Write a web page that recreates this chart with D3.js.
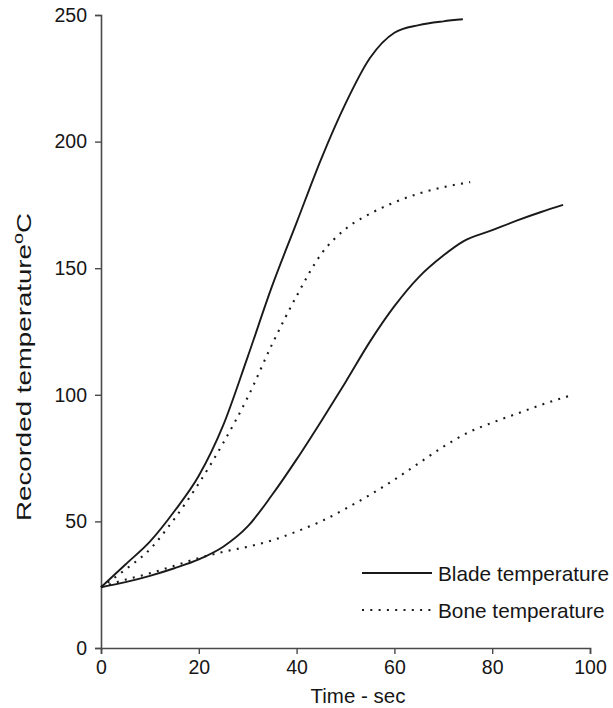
<!DOCTYPE html>
<html>
<head>
<meta charset="utf-8">
<script src="https://cdn.jsdelivr.net/npm/d3@7/dist/d3.min.js"></script>
<style>
  html, body { margin: 0; padding: 0; background: #fff; }
  svg { display: block; font-family: "Liberation Sans", Arial, sans-serif; }
</style>
</head>
<body>
<svg id="chart" width="613" height="708"></svg>
<script>
// Time (s) samples and recorded temperatures (°C)
const bladeFastTime = [0, 5, 10, 15, 20, 25, 30, 35, 40, 45, 50, 55, 60, 65, 70, 74];
const bladeFastTemp = [24, 33, 42, 54, 68, 88, 115, 143, 168, 193, 215, 233, 243, 246, 247.5, 248.3];

const boneFastTime = [0, 5, 10, 15, 20, 25, 30, 35, 40, 45, 50, 55, 60, 65, 70, 75.5];
const boneFastTemp = [24, 31, 39, 51, 65, 81, 99, 120, 139, 155.5, 165.5, 171.5, 176, 179.5, 182, 184];

const bladeSlowTime = [0, 5, 10, 15, 20, 25, 30, 35, 40, 45, 50, 55, 60, 65, 70, 74, 80, 85, 90, 94.5];
const bladeSlowTemp = [24, 26, 28.5, 31.5, 35, 40, 48, 60.5, 74.5, 89.5, 105, 121, 135, 146.5, 155, 160.5, 165, 168.8, 172.2, 175];

const boneSlowTime = [0, 5, 10, 15, 20, 25, 30, 35, 40, 45, 50, 55, 60, 65, 70, 75, 80, 85, 90, 96.5];
const boneSlowTemp = [24, 27, 29.5, 32.5, 35.5, 38, 40, 42.5, 46, 50, 55, 60.5, 66.5, 73, 79.5, 85, 89, 92.5, 96, 100];

const xTicks = [0, 20, 40, 60, 80, 100];
const yTicks = [0, 50, 100, 150, 200, 250];

const legendLabels = ["Blade temperature", "Bone temperature"];

const svg = d3.select("#chart");

const x = d3.scaleLinear().domain([0, 100]).range([101, 590]);
const y = d3.scaleLinear().domain([0, 250]).range([648, 15]);

const axisColor = "#4a4a4a";
const lineColor = "#1a1a1a";
const textColor = "#161616";

// Axes
const xAxis = svg.append("g")
  .attr("transform", `translate(0,${y(0)})`)
  .call(d3.axisBottom(x).tickValues(xTicks).tickSizeOuter(0).tickSize(6).tickPadding(6));
const yAxis = svg.append("g")
  .attr("transform", `translate(${x(0)},0)`)
  .call(d3.axisLeft(y).tickValues(yTicks).tickSizeOuter(0).tickSize(6).tickPadding(8));

[xAxis, yAxis].forEach(g => {
  g.select(".domain").attr("stroke", axisColor).attr("stroke-width", 1.6);
  g.selectAll(".tick line").attr("stroke", axisColor).attr("stroke-width", 1.4);
  g.selectAll(".tick text").attr("fill", textColor).style("font-size", "19.5px")
    .style("font-family", "'Liberation Sans', Arial, sans-serif");
});

// Series
const makeLine = d3.line()
  .x(d => x(d[0]))
  .y(d => y(d[1]))
  .curve(d3.curveMonotoneX);

const zip = (a, b) => a.map((t, i) => [t, b[i]]);

const series = [
  { pts: zip(bladeFastTime, bladeFastTemp), dotted: false },
  { pts: zip(bladeSlowTime, bladeSlowTemp), dotted: false },
  { pts: zip(boneFastTime, boneFastTemp), dotted: true },
  { pts: zip(boneSlowTime, boneSlowTemp), dotted: true }
];

series.forEach(s => {
  svg.append("path")
    .datum(s.pts)
    .attr("d", makeLine)
    .attr("fill", "none")
    .attr("stroke", lineColor)
    .attr("stroke-width", s.dotted ? 2.1 : 1.9)
    .attr("stroke-dasharray", s.dotted ? "2,6.3" : null);
});

// Axis titles
svg.append("text")
  .attr("x", 358)
  .attr("y", 703)
  .attr("text-anchor", "middle")
  .attr("fill", textColor)
  .style("font-size", "20.5px")
  .text("Time - sec");

const yTitle = svg.append("text")
  .attr("transform", "translate(31,367) rotate(-90)")
  .attr("text-anchor", "middle")
  .attr("fill", textColor)
  .attr("textLength", 308)
  .attr("lengthAdjust", "spacingAndGlyphs")
  .style("font-size", "21px");
yTitle.append("tspan").text("Recorded temperature");
yTitle.append("tspan").attr("dy", -8).style("font-size", "15px").text("o");
yTitle.append("tspan").attr("dy", 8).text("C");

// Legend
const legend = svg.append("g");
legendLabels.forEach((label, i) => {
  const ly = [573, 610][i];
  legend.append("line")
    .attr("x1", 362).attr("x2", 432)
    .attr("y1", ly).attr("y2", ly)
    .attr("stroke", lineColor)
    .attr("stroke-width", i === 0 ? 1.9 : 2.1)
    .attr("stroke-dasharray", i === 0 ? null : "2,6.3");
  legend.append("text")
    .attr("x", 438)
    .attr("y", ly + 7.5)
    .attr("fill", textColor)
    .style("font-size", "20.8px")
    .text(label);
});
</script>
</body>
</html>
